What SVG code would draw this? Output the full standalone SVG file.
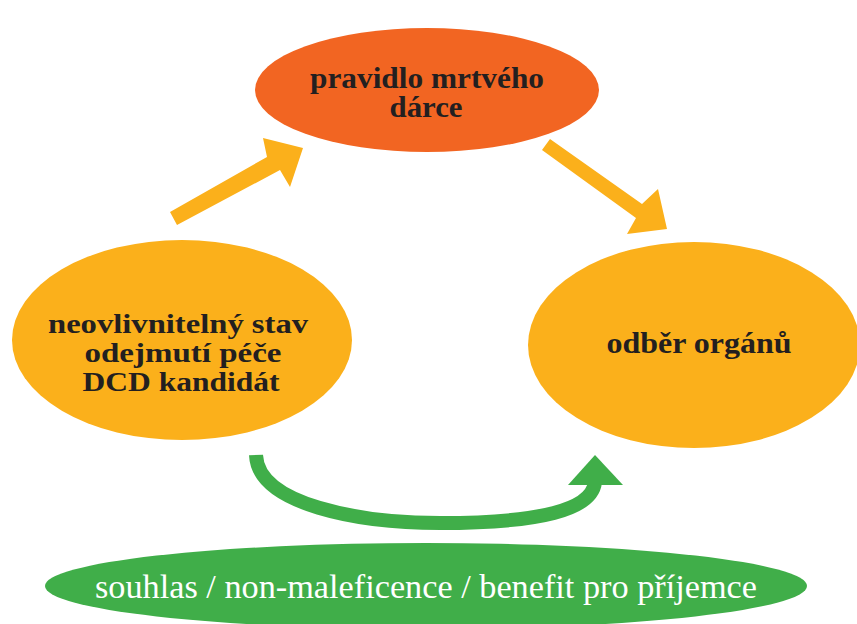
<svg xmlns="http://www.w3.org/2000/svg" width="857" height="624" viewBox="0 0 857 624">
<style>
.lbl{font-family:"Liberation Serif","DejaVu Serif",serif;font-weight:bold;font-size:29px;fill:#231F20;text-anchor:middle}
.sm{font-size:27px}
.glbl{font-family:"Liberation Serif","DejaVu Serif",serif;font-size:33px;fill:#ffffff;text-anchor:middle}
.ya{fill:#FBB01B}
</style>
<rect width="857" height="624" fill="#ffffff"/>
<g id="connectors">
<polygon class="ya" points="170,212 267,157 263,138 303,148 290,187 280,170 177,225"/>
<polygon class="ya" points="550,139 642,204 658,189 667,229 627,234 636,218 542,150"/>
<path d="M256,455 C258,505 360,523 440,523 C540,523 592,510 595,482" fill="none" stroke="#40AE49" stroke-width="14"/>
<polygon points="595,455 623,485 568,485" fill="#40AE49"/>
</g>
<g id="node-top">
<ellipse cx="427" cy="90" rx="172" ry="62" fill="#F26522"/>
<text class="lbl" x="427" y="88" textLength="234" lengthAdjust="spacingAndGlyphs">pravidlo mrtvého</text>
<text class="lbl" x="426" y="117" textLength="73" lengthAdjust="spacingAndGlyphs">dárce</text>
</g>
<g id="node-left">
<ellipse cx="182" cy="340" rx="170" ry="100" fill="#FBB01B"/>
<text class="lbl sm" x="178" y="333" textLength="260" lengthAdjust="spacingAndGlyphs">neovlivnitelný stav</text>
<text class="lbl sm" x="183" y="362" textLength="197" lengthAdjust="spacingAndGlyphs">odejmutí péče</text>
<text class="lbl sm" x="181" y="391" textLength="197" lengthAdjust="spacingAndGlyphs">DCD kandidát</text>
</g>
<g id="node-right">
<ellipse cx="694" cy="345" rx="166" ry="103" fill="#FBB01B"/>
<text class="lbl" x="699" y="353" textLength="185" lengthAdjust="spacingAndGlyphs">odběr orgánů</text>
</g>
<g id="node-bottom">
<ellipse cx="426" cy="586" rx="381" ry="43" fill="#40AE49"/>
<text class="glbl" x="426" y="598" textLength="662" lengthAdjust="spacingAndGlyphs">souhlas / non-maleficence / benefit pro příjemce</text>
</g>
</svg>
